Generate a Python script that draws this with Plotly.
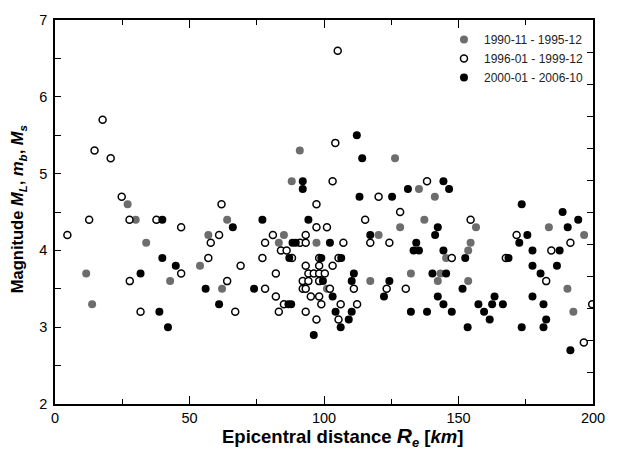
import plotly.graph_objects as go

# Series 1: 1990-11 - 1995-12 (gray filled)
g_x = [27, 91, 88, 126.4, 135.3, 141.2, 30, 33.9, 11.6, 42.8, 13.8, 64, 57, 85.1, 83.2, 97.2, 53.9, 62.1,
       137.3, 128.3, 120.3, 145.4, 132.3, 143.3, 117.2, 142.3, 101.1, 156.5, 183.6, 196.7, 154.5, 153.6,
       153.6, 190.5, 192.7]
g_y = [4.6, 5.3, 4.9, 5.2, 4.8, 4.7, 4.4, 4.1, 3.7, 3.6, 3.3, 4.4, 4.2, 4.2, 4.1, 4.1, 3.8, 3.5,
       4.4, 4.3, 4.2, 3.9, 3.7, 3.7, 3.6, 3.6, 3.5, 4.3, 4.3, 4.2, 4.1, 4.0,
       3.6, 3.5, 3.2]

# Series 2: 1996-01 - 1999-12 (open)
o_x = [17.7, 14.7, 20.7, 24.8, 61.9, 97.2, 105.1, 104.2, 103.2, 138.3, 120.3, 128.3, 12.7, 27.7, 37.7, 4.6,
       46.9, 46.9, 27.8, 31.8, 97.2, 101.1, 61.0, 81.0, 93.2, 57.9, 78.1, 91.1, 93.2, 84.0, 86.1, 57.0,
       77.1, 88.1, 98.2, 69.0, 93.2, 98.2, 82.1, 94.2, 96.2, 98.2, 100.3, 64.0, 92.1, 94.2, 98.2, 78.1,
       92.1, 93.2, 82.1, 95.1, 98.2, 85.1, 99.0, 67.0, 83.2, 93.2, 97.2, 115.3, 107.2, 117.2,
       124.3, 147.5, 105.4, 103.2, 102.2, 111.1, 123.3, 130.4, 106.2, 112.3, 105.4, 154.5, 171.6, 191.6,
       184.5, 167.6, 182.6, 199.7, 196.6]
o_y = [5.7, 5.3, 5.2, 4.7, 4.6, 4.6, 6.6, 5.4, 4.9, 4.9, 4.7, 4.5, 4.4, 4.4, 4.4, 4.2,
       4.3, 3.7, 3.6, 3.2, 4.3, 4.3, 4.2, 4.2, 4.2, 4.1, 4.1, 4.1, 4.1, 4.0, 4.0, 3.9,
       3.9, 3.9, 3.9, 3.8, 3.8, 3.8, 3.7, 3.7, 3.7, 3.7, 3.7, 3.6, 3.6, 3.6, 3.6, 3.5,
       3.5, 3.5, 3.4, 3.4, 3.4, 3.3, 3.3, 3.2, 3.2, 3.2, 3.1, 4.4, 4.1, 4.1,
       4.1, 3.9, 3.9, 3.8, 3.5, 3.5, 3.5, 3.5, 3.3, 3.3, 3.1, 4.4, 4.2, 4.1,
       4.0, 3.9, 3.6, 3.3, 2.8]

# Series 3: 2000-01 - 2006-10 (black filled)
b_x = [92.1, 92.1, 112.2, 114.2, 144.4, 131.2, 146.5, 113.2, 125.3, 173.5, 188.7, 39.9, 39.9, 44.9, 31.8,
       38.8, 42.0, 77.1, 94.2, 66.1, 88.3, 89.5, 87.1, 99.0, 99.6, 56.0, 74.0, 61.0, 86.8, 87.8, 96.2,
       142.3, 117.2, 141.3, 102.2, 134.3, 133.3, 135.3, 144.4, 106.4, 111.1, 140.3, 145.4, 110.3, 124.3,
       103.2, 122.3, 142.3, 144.4, 104.3, 110.3, 132.3, 138.3, 147.5, 109.2, 106.2, 194.5, 190.6, 175.6,
       172.6, 177.5, 187.6, 152.5, 168.6, 177.5, 186.6, 180.5, 151.5, 163.4, 177.5, 157.4, 162.5, 166.5,
       181.6, 159.5, 161.6, 182.6, 153.4, 173.5, 181.6, 191.6]
b_y = [4.9, 4.8, 5.5, 5.2, 4.9, 4.8, 4.8, 4.7, 4.7, 4.6, 4.5, 4.4, 3.9, 3.8, 3.7,
       3.2, 3.0, 4.4, 4.4, 4.3, 4.1, 4.1, 3.9, 3.9, 3.6, 3.5, 3.5, 3.3, 3.3, 3.3, 2.9,
       4.3, 4.2, 4.2, 4.1, 4.1, 4.0, 4.0, 4.0, 3.9, 3.7, 3.7, 3.7, 3.6, 3.6,
       3.4, 3.4, 3.4, 3.3, 3.2, 3.2, 3.2, 3.2, 3.2, 3.1, 3.0, 4.4, 4.3, 4.2,
       4.1, 4.0, 4.0, 3.9, 3.9, 3.8, 3.8, 3.7, 3.5, 3.4, 3.4, 3.3, 3.3, 3.3,
       3.3, 3.2, 3.1, 3.1, 3.0, 3.0, 3.0, 2.7]

labels = ["1990-11 - 1995-12", "1996-01 - 1999-12", "2000-01 - 2006-10"]
x_title = "<b>Epicentral distance <i><span style='font-size:21px'>R</span><sub>e</sub></i> [<i>km</i>]</b>"
y_title = "<b>Magnitude <i>M<sub>L</sub></i>, <i>m<sub>b</sub></i>, <i>M<sub>s</sub></i></b>"

FONT = "Arial, Liberation Sans, sans-serif"

fig = go.Figure()
fig.add_trace(go.Scatter(x=g_x, y=g_y, mode="markers", name=labels[0],
                         marker=dict(size=8, color="#6d6d6d", line=dict(width=0))))
fig.add_trace(go.Scatter(x=o_x, y=o_y, mode="markers", name=labels[1],
                         marker=dict(size=7, color="white", line=dict(width=1.5, color="black"))))
fig.add_trace(go.Scatter(x=b_x, y=b_y, mode="markers", name=labels[2],
                         marker=dict(size=8, color="black", line=dict(width=0))))
# empty trace to host the right-hand tick axis
fig.add_trace(go.Scatter(x=[], y=[], yaxis="y2", showlegend=False, hoverinfo="skip"))

fig.update_layout(
    width=617, height=453,
    margin=dict(l=55, r=15, t=15, b=49),
    paper_bgcolor="white", plot_bgcolor="white",
    font=dict(family=FONT, size=14.5, color="black"),
    showlegend=True,
    legend=dict(x=0.723, y=0.987, xanchor="left", yanchor="top",
                bgcolor="rgba(0,0,0,0)", font=dict(size=12, color="#222222")),
    xaxis=dict(range=[0, 200], dtick=50, tick0=0, ticks="inside", ticklen=8, tickwidth=1.2,
               tickcolor="black", showline=True, linewidth=1.5, linecolor="black", mirror="ticks",
               showgrid=False, zeroline=False, tickfont=dict(size=14.5),
               minor=dict(dtick=25, ticks="inside", ticklen=5, tickwidth=1.2, tickcolor="black", showgrid=False)),
    yaxis=dict(range=[2, 7], dtick=1, tick0=2, ticks="inside", ticklen=6, tickwidth=1.2,
               tickcolor="black", showline=True, linewidth=1.5, linecolor="black", mirror=True,
               showgrid=False, zeroline=False, tickfont=dict(size=14.5), ticklabelstandoff=3,
               minor=dict(dtick=0.5, ticks="inside", ticklen=6, tickwidth=1.2, tickcolor="black", showgrid=False)),
    yaxis2=dict(range=[0, 12], dtick=1, overlaying="y", side="right", ticks="inside", ticklen=6,
                tickwidth=1.2, tickcolor="black", showticklabels=False, showline=False,
                showgrid=False, zeroline=False),
    annotations=[
        dict(text=x_title, xref="paper", yref="paper", x=0.534, y=-0.085,
             xanchor="center", yanchor="middle", showarrow=False, font=dict(size=18.5)),
        dict(text=y_title, xref="paper", yref="paper", x=-0.0695, y=0.509, textangle=-90,
             xanchor="center", yanchor="middle", showarrow=False, font=dict(size=16.5)),
    ],
)

fig.write_html("out.html")
